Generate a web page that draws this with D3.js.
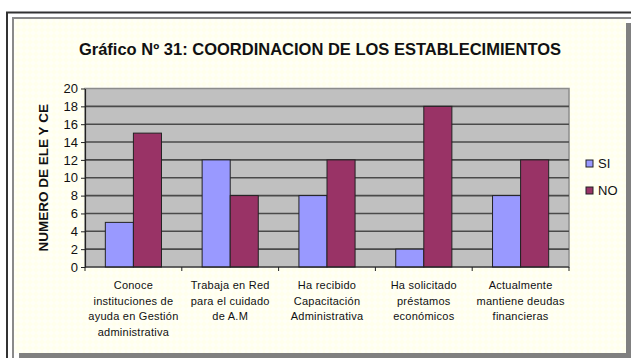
<!DOCTYPE html>
<html>
<head>
<meta charset="utf-8">
<script src="https://cdn.jsdelivr.net/npm/d3@7"></script>
<style>
  html, body { margin: 0; padding: 0; background: #ffffff; }
  svg { display: block; }
  text { font-family: "Liberation Sans", Arial, sans-serif; }
</style>
</head>
<body>
<svg id="chart" width="631" height="358"></svg>
<script>
// Chart data
const categories = [
  ["Conoce", "instituciones de", "ayuda en Gestión", "administrativa"],
  ["Trabaja en Red", "para el cuidado", "de A.M"],
  ["Ha recibido", "Capacitación", "Administrativa"],
  ["Ha solicitado", "préstamos", "económicos"],
  ["Actualmente", "mantiene deudas", "financieras"]
];
const seriesNames = ["SI", "NO"];
const siValues = [5, 12, 8, 2, 8];
const noValues = [15, 8, 12, 18, 12];
const yTicks = [0, 2, 4, 6, 8, 10, 12, 14, 16, 18, 20];
const title = "Gráfico Nº 31: COORDINACION DE LOS ESTABLECIMIENTOS";
const yTitle = "NUMERO DE ELE Y CE";
const colors = ["#9999ff", "#993366"];

const svg = d3.select("#chart");

// Textured light-yellow background for the chart panel
const defs = svg.append("defs");
const pat = defs.append("pattern")
  .attr("id", "bgPattern").attr("patternUnits", "userSpaceOnUse")
  .attr("width", 6).attr("height", 6);
pat.append("rect").attr("width", 6).attr("height", 6).attr("fill", "#ffffec");
pat.append("path").attr("d", "M0,3 L3,0 L6,3 L3,6 Z").attr("fill", "#fffff6");

// Outer frame
svg.append("path")
  .attr("d", "M7,358 L7,12.5 L631,12.5")
  .attr("fill", "none").attr("stroke", "#333").attr("stroke-width", 2);

// Panel shadow and panel
svg.append("rect").attr("x", 19).attr("y", 23).attr("width", 612).attr("height", 335)
  .attr("fill", "#808080");
svg.append("rect").attr("x", 13).attr("y", 18).attr("width", 613).attr("height", 335)
  .attr("fill", "url(#bgPattern)");
svg.append("path")
  .attr("d", "M13,358 L13,18 L631,18")
  .attr("fill", "none").attr("stroke", "#8a8a8a").attr("stroke-width", 2);

// Title
svg.append("text")
  .attr("x", 320).attr("y", 55)
  .attr("text-anchor", "middle")
  .attr("font-size", 16.5).attr("font-weight", "bold").attr("fill", "#111")
  .text(title);

// Plot area
const plot = { left: 85, right: 569, top: 88.5, bottom: 267 };

const x0 = d3.scaleBand()
  .domain(d3.range(categories.length))
  .range([plot.left, plot.right])
  .paddingInner(0.42).paddingOuter(0.21);
const x1 = d3.scaleBand()
  .domain(seriesNames)
  .range([0, x0.bandwidth()]);
const y = d3.scaleLinear().domain([0, 20]).range([plot.bottom, plot.top]);

svg.append("rect")
  .attr("x", plot.left).attr("y", plot.top)
  .attr("width", plot.right - plot.left).attr("height", plot.bottom - plot.top)
  .attr("fill", "#c0c0c0").attr("stroke", "#8c8c8c").attr("stroke-width", 1.5);

// Horizontal gridlines
svg.append("g").selectAll("line")
  .data(yTicks.filter(t => t > 0 && t < 20))
  .join("line")
  .attr("x1", plot.left).attr("x2", plot.right)
  .attr("y1", d => y(d)).attr("y2", d => y(d))
  .attr("stroke", "#4a4a4a").attr("stroke-width", 1.6);

// Bars
const data = categories.map((c, i) => ({ i, values: [siValues[i], noValues[i]] }));
const groups = svg.append("g").selectAll("g")
  .data(data).join("g")
  .attr("transform", d => `translate(${x0(d.i)},0)`);
groups.selectAll("rect")
  .data(d => d.values.map((v, k) => ({ key: seriesNames[k], v, k })))
  .join("rect")
  .attr("x", d => x1(d.key))
  .attr("y", d => y(d.v))
  .attr("width", x1.bandwidth())
  .attr("height", d => y(0) - y(d.v))
  .attr("fill", d => colors[d.k])
  .attr("stroke", "#222").attr("stroke-width", 1);

// Y axis
const yAxis = svg.append("g")
  .attr("transform", `translate(${plot.left},0)`)
  .call(d3.axisLeft(y).tickValues(yTicks).tickSize(4).tickSizeOuter(0));
yAxis.select(".domain").attr("stroke", "#222").attr("stroke-width", 1.2);
yAxis.selectAll(".tick line").attr("stroke", "#222");
yAxis.selectAll("text")
  .attr("font-size", 13).attr("fill", "#111")
  .attr("font-family", "Liberation Sans, Arial, sans-serif")
  .attr("x", -7);

// X axis with boundary ticks
const bounds = d3.range(categories.length + 1)
  .map(i => plot.left + i * (plot.right - plot.left) / categories.length);
svg.append("line")
  .attr("x1", plot.left).attr("x2", plot.right)
  .attr("y1", plot.bottom).attr("y2", plot.bottom)
  .attr("stroke", "#222").attr("stroke-width", 1.2);
svg.append("g").selectAll("line")
  .data(bounds).join("line")
  .attr("x1", d => d).attr("x2", d => d)
  .attr("y1", plot.bottom).attr("y2", plot.bottom + 4)
  .attr("stroke", "#222");

// Category labels
const catLabels = svg.append("g").selectAll("text")
  .data(data).join("text")
  .attr("text-anchor", "middle")
  .attr("font-size", 11).attr("fill", "#111")
  .attr("letter-spacing", 0.25)
  .attr("y", 289);
catLabels.selectAll("tspan")
  .data(d => categories[d.i].map(line => ({ line, cx: x0(d.i) + x0.bandwidth() / 2 })))
  .join("tspan")
  .attr("x", d => d.cx)
  .attr("dy", (d, k) => k === 0 ? 0 : 15.7)
  .text(d => d.line);

// Y axis title
svg.append("text")
  .attr("transform", `translate(48,${(plot.top + plot.bottom) / 2}) rotate(-90)`)
  .attr("text-anchor", "middle")
  .attr("font-size", 13.5).attr("font-weight", "bold").attr("fill", "#111")
  .text(yTitle);

// Legend
const legend = svg.append("g").selectAll("g")
  .data(seriesNames).join("g")
  .attr("transform", (d, k) => `translate(586,${160 + k * 27})`);
legend.append("rect")
  .attr("width", 7).attr("height", 7)
  .attr("fill", (d, k) => colors[k])
  .attr("stroke", "#222").attr("stroke-width", 1);
legend.append("text")
  .attr("x", 12).attr("y", 8)
  .attr("font-size", 13).attr("fill", "#111")
  .text(d => d);
</script>
</body>
</html>
